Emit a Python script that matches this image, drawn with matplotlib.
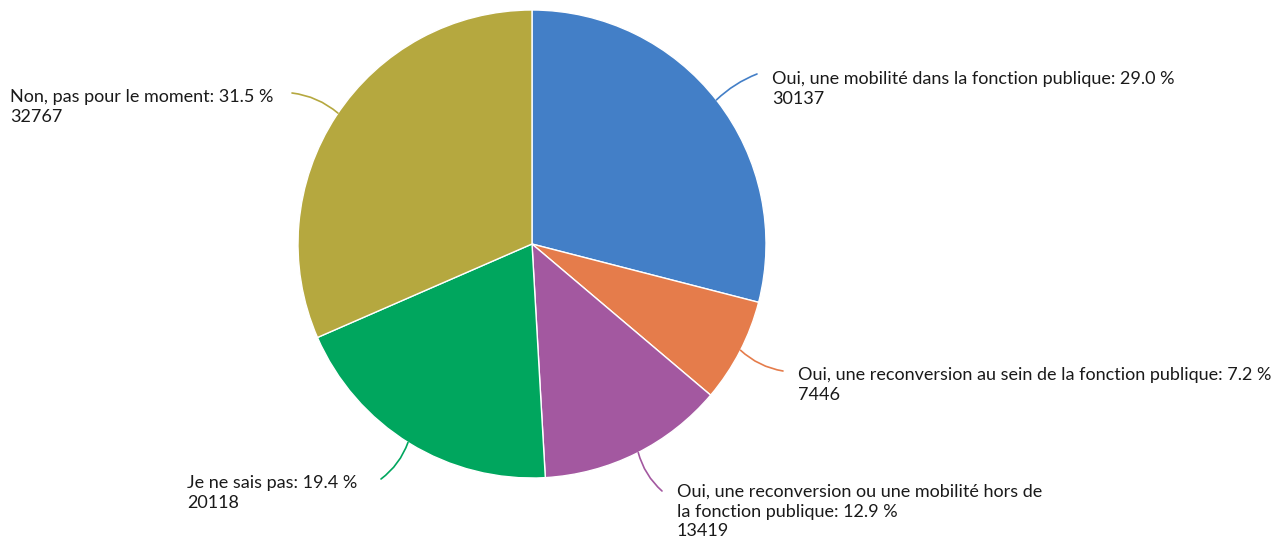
import numpy as np
import matplotlib
matplotlib.use('Agg')
import matplotlib.pyplot as plt

labels = [
    "Oui, une mobilité dans la fonction publique",
    "Oui, une reconversion au sein de la fonction publique",
    "Oui, une reconversion ou une mobilité hors de\nla fonction publique",
    "Je ne sais pas",
    "Non, pas pour le moment",
]
counts = [30137, 7446, 13419, 20118, 32767]
colors = ['#437fc7', '#e57c4b', '#a358a0', '#00a65e', '#b5a83f']

# layout in pixels (y measured from top)
W, H = 1280, 540
cx, cy, R = 532, 244, 234
text_pos = [(772, 71), (798, 367), (677, 484), (187, 475), (10, 89)]
anchor_ang = [52, 117, 153, 212, 304]  # clockwise from top
elbow = [(757, 74), (783, 371), (662, 491), (381, 479), (292, 93)]
rads = [0.1, -0.15, -0.15, 0.15, -0.15]

plt.rcParams['font.family'] = ['Lato', 'DejaVu Sans']

fig = plt.figure(figsize=(12.8, 5.4), dpi=100)
ax = fig.add_axes([0, 0, 1, 1])

ax.pie(counts, colors=colors, startangle=90, counterclock=False,
       center=(cx, H - cy), radius=R,
       wedgeprops=dict(edgecolor='white', linewidth=1))
ax.set_xlim(0, W)
ax.set_ylim(0, H)
ax.set_aspect('equal')
ax.axis('off')

total = sum(counts)
for i, lab in enumerate(labels):
    pct = counts[i] / total * 100
    txt = f"{lab}: {pct:.1f} %\n{counts[i]}"
    a = np.deg2rad(anchor_ang[i])
    ax_x = cx + R * np.sin(a)
    ax_y = H - (cy - R * np.cos(a))
    ex, ey = elbow[i]
    ax.annotate('', xy=(ax_x, ax_y), xytext=(ex, H - ey),
                arrowprops=dict(arrowstyle='-', color=colors[i], lw=1.2,
                                connectionstyle=f'arc3,rad={rads[i]}',
                                shrinkA=0, shrinkB=0))
    tx, ty = text_pos[i]
    ax.text(tx, H - ty, txt, ha='left', va='top', fontsize=13,
            color='#1a1a1a', linespacing=1.28)

fig.savefig('out.png', dpi=100)
